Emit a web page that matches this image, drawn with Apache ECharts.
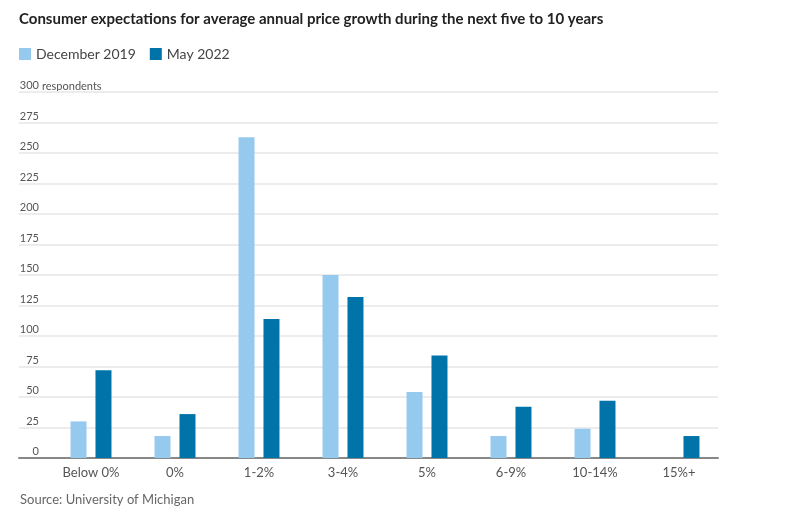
<!DOCTYPE html>
<html><head><meta charset="utf-8">
<script src="https://cdn.jsdelivr.net/npm/echarts@6/dist/echarts.min.js"></script>
<style>html,body{margin:0;padding:0;background:#fff}#c{width:803px;height:517px}</style>
</head><body><div id="c"></div>
<script>
const categories = ['Below 0%', '0%', '1-2%', '3-4%', '5%', '6-9%', '10-14%', '15%+'];
const dec2019 = [30, 18, 263, 150, 54, 18, 24, 0];
const may2022 = [72, 36, 114, 132, 84, 42, 47, 18];
const yTicks = {min: 0, max: 300, interval: 25};
const yUnit = 'respondents';
const FONT = 'Lato';

const chart = echarts.init(document.getElementById('c'));
chart.setOption({
  animation: false,
  backgroundColor: '#fff',
  title: {
    text: 'Consumer expectations for average annual price growth during the next five to 10 years',
    left: 14, top: 7,
    textStyle: {fontFamily: FONT, fontSize: 15, fontWeight: 'bold', color: '#222'}
  },
  legend: {
    left: 14, top: 42, icon: 'rect', itemWidth: 12, itemHeight: 12, itemGap: 14,
    textStyle: {fontFamily: FONT, fontSize: 14, color: '#444'},
    data: ['December 2019', 'May 2022']
  },
  graphic: [
    {type: 'text', left: 20, top: 493,
     style: {text: 'Source: University of Michigan', fontFamily: FONT, fontSize: 13, fill: '#666'}},
    {type: 'text', left: 42, top: 80.5,
     style: {text: yUnit, fontFamily: FONT, fontSize: 11, fill: '#555'}}
  ],
  grid: [
    {left: 19, right: 85, top: 92, bottom: 59},
    {left: 49, right: 82, top: 92, bottom: 59}
  ],
  xAxis: [
    {gridIndex: 0, type: 'value', min: 0, max: 1,
     axisLine: {show: true, onZero: false, lineStyle: {color: '#888', width: 2}},
     axisTick: {show: false}, axisLabel: {show: false}, splitLine: {show: false}},
    {gridIndex: 1, type: 'category', data: categories,
     axisLine: {show: false}, axisTick: {show: false},
     axisLabel: {fontFamily: FONT, fontSize: 13, color: '#555', margin: 8}}
  ],
  yAxis: [
    {gridIndex: 0, type: 'value', min: yTicks.min, max: yTicks.max, interval: yTicks.interval,
     axisLine: {show: false}, axisTick: {show: false},
     axisLabel: {inside: true, align: 'right', verticalAlign: 'bottom', margin: 20, padding: [0, 0, 1, 0],
                 fontFamily: FONT, fontSize: 11, color: '#555'},
     splitLine: {lineStyle: {color: '#ececec', width: 2}}},
    {gridIndex: 1, type: 'value', min: yTicks.min, max: yTicks.max, interval: yTicks.interval,
     show: false, splitLine: {show: false}}
  ],
  series: [
    {name: 'December 2019', type: 'bar', xAxisIndex: 1, yAxisIndex: 1, data: dec2019,
     barWidth: 16, barGap: '56%', itemStyle: {color: '#96c9ee'}},
    {name: 'May 2022', type: 'bar', xAxisIndex: 1, yAxisIndex: 1, data: may2022,
     barWidth: 16, barGap: '56%', itemStyle: {color: '#0074a8'}}
  ]
});
</script></body></html>
